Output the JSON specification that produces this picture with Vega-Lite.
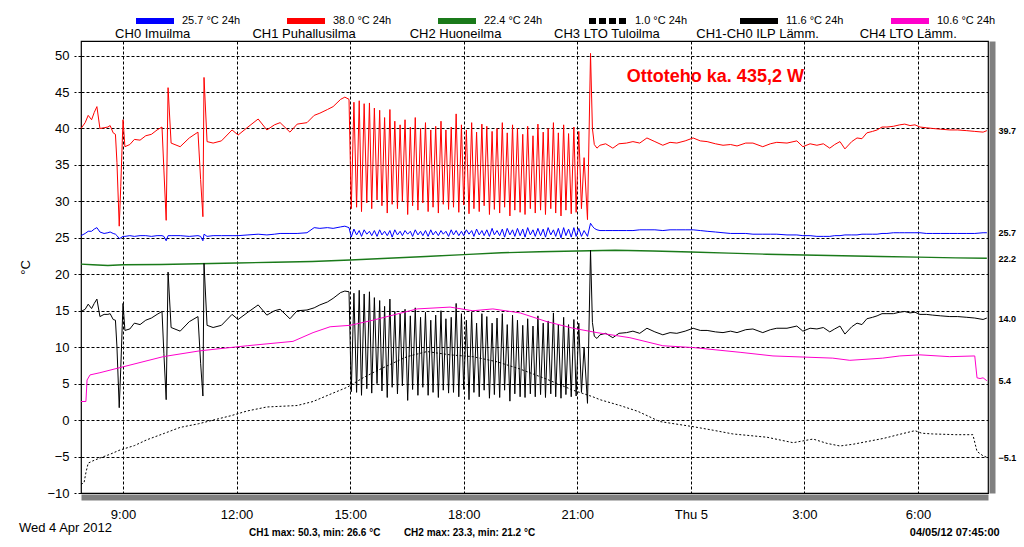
{
  "$schema": "https://vega.github.io/schema/vega-lite/v6.json",
  "autosize": {"type": "none"},
  "padding": {"left": 81, "top": 41, "right": 36, "bottom": 54},
  "width": 907,
  "height": 452,
  "background": "#ffffff",
  "config": {
    "font": "Liberation Sans",
    "view": {"stroke": "#000000", "strokeWidth": 1.2, "fill": "#ffffff"}
  },
  "datasets": {
    "m": [
      {"h":7.89,"a":25.3,"b":40.0,"e":14.9},
      {"h":8.00,"a":25.6,"b":40.8,"e":15.2},
      {"h":8.08,"a":25.9,"b":41.8,"e":15.9},
      {"h":8.17,"a":25.9,"b":41.2,"e":15.3},
      {"h":8.24,"a":26.2,"b":42.2,"e":16.0},
      {"h":8.31,"a":26.4,"b":43.0,"e":16.6},
      {"h":8.39,"a":25.8,"b":40.0,"e":14.2},
      {"h":8.50,"a":25.6,"b":40.1,"e":14.5},
      {"h":8.60,"a":25.7,"b":40.2,"e":14.5},
      {"h":8.66,"a":25.8,"b":40.4,"e":14.6},
      {"h":8.74,"a":25.6,"b":39.4,"e":13.8},
      {"h":8.80,"a":25.5,"b":39.2,"e":13.7},
      {"h":8.84,"a":25.3,"b":35.3,"e":10.0},
      {"h":8.90,"a":24.9,"b":26.6,"e":1.7},
      {"h":8.94,"a":25.0,"b":32.0,"e":7.0},
      {"h":9.00,"a":25.2,"b":41.2,"e":16.0},
      {"h":9.05,"a":25.2,"b":37.5,"e":12.3},
      {"h":9.18,"a":25.3,"b":37.8,"e":12.5},
      {"h":9.30,"a":25.2,"b":38.5,"e":13.3},
      {"h":9.45,"a":25.3,"b":38.4,"e":13.1},
      {"h":9.60,"a":25.3,"b":39.0,"e":13.7},
      {"h":9.75,"a":25.2,"b":39.2,"e":14.0},
      {"h":9.90,"a":25.3,"b":39.8,"e":14.5},
      {"h":10.03,"a":25.3,"b":40.2,"e":14.9},
      {"h":10.08,"a":25.2,"b":34.3,"e":9.1},
      {"h":10.14,"a":24.6,"b":27.4,"e":2.8},
      {"h":10.19,"a":25.3,"b":45.6,"e":20.3},
      {"h":10.27,"a":25.3,"b":38.0,"e":12.7},
      {"h":10.51,"a":25.3,"b":37.5,"e":12.2},
      {"h":10.75,"a":25.2,"b":38.7,"e":13.5},
      {"h":10.98,"a":25.3,"b":39.5,"e":14.2},
      {"h":11.05,"a":25.2,"b":33.0,"e":7.8},
      {"h":11.11,"a":24.6,"b":27.9,"e":3.3},
      {"h":11.14,"a":25.5,"b":47.0,"e":21.5},
      {"h":11.22,"a":25.2,"b":38.2,"e":13.0},
      {"h":11.38,"a":25.3,"b":38.0,"e":12.7},
      {"h":11.60,"a":25.3,"b":38.3,"e":13.0},
      {"h":11.88,"a":25.3,"b":39.8,"e":14.5},
      {"h":12.04,"a":25.3,"b":39.1,"e":13.8},
      {"h":12.30,"a":25.4,"b":40.2,"e":14.8},
      {"h":12.57,"a":25.5,"b":41.3,"e":15.8},
      {"h":12.80,"a":25.4,"b":39.8,"e":14.4},
      {"h":13.00,"a":25.5,"b":40.5,"e":15.0},
      {"h":13.15,"a":25.6,"b":40.8,"e":15.2},
      {"h":13.41,"a":25.6,"b":39.5,"e":13.9},
      {"h":13.60,"a":25.6,"b":40.6,"e":15.0},
      {"h":13.86,"a":25.7,"b":40.8,"e":15.1},
      {"h":14.05,"a":26.4,"b":41.8,"e":15.4},
      {"h":14.20,"a":26.3,"b":42.1,"e":15.8},
      {"h":14.40,"a":26.4,"b":42.6,"e":16.2},
      {"h":14.55,"a":26.3,"b":43.0,"e":16.7},
      {"h":14.75,"a":26.5,"b":44.0,"e":17.5},
      {"h":14.86,"a":26.6,"b":44.3,"e":17.7},
      {"h":14.97,"a":26.4,"b":44.0,"e":17.6},
      {"h":15.03,"a":25.1,"b":29.0,"e":3.9},
      {"h":15.10,"a":26.2,"b":43.6,"e":17.4},
      {"h":15.17,"a":25.4,"b":29.2,"e":3.8},
      {"h":15.24,"a":26.0,"b":43.8,"e":17.8},
      {"h":15.30,"a":25.2,"b":28.6,"e":3.4},
      {"h":15.37,"a":26.1,"b":43.4,"e":17.3},
      {"h":15.44,"a":25.5,"b":29.8,"e":4.3},
      {"h":15.51,"a":25.9,"b":43.5,"e":17.6},
      {"h":15.57,"a":25.3,"b":29.0,"e":3.7},
      {"h":15.64,"a":26.0,"b":42.8,"e":16.8},
      {"h":15.71,"a":25.2,"b":30.2,"e":5.0},
      {"h":15.78,"a":26.1,"b":42.5,"e":16.4},
      {"h":15.84,"a":25.4,"b":29.4,"e":4.0},
      {"h":15.91,"a":25.9,"b":41.5,"e":15.6},
      {"h":15.98,"a":25.3,"b":28.4,"e":3.1},
      {"h":16.05,"a":26.0,"b":42.6,"e":16.6},
      {"h":16.11,"a":25.1,"b":29.6,"e":4.5},
      {"h":16.18,"a":26.1,"b":41.0,"e":14.9},
      {"h":16.25,"a":25.4,"b":29.0,"e":3.6},
      {"h":16.32,"a":25.9,"b":40.5,"e":14.6},
      {"h":16.38,"a":25.3,"b":30.0,"e":4.7},
      {"h":16.45,"a":26.0,"b":41.2,"e":15.2},
      {"h":16.52,"a":25.5,"b":28.2,"e":2.7},
      {"h":16.59,"a":25.9,"b":40.2,"e":14.3},
      {"h":16.65,"a":25.2,"b":29.4,"e":4.2},
      {"h":16.72,"a":26.1,"b":41.5,"e":15.4},
      {"h":16.79,"a":25.4,"b":28.8,"e":3.4},
      {"h":16.86,"a":25.9,"b":40.0,"e":14.1},
      {"h":16.92,"a":25.3,"b":29.8,"e":4.5},
      {"h":16.99,"a":26.0,"b":40.8,"e":14.8},
      {"h":17.06,"a":25.2,"b":28.6,"e":3.4},
      {"h":17.13,"a":26.1,"b":39.8,"e":13.7},
      {"h":17.19,"a":25.4,"b":29.2,"e":3.8},
      {"h":17.26,"a":25.9,"b":40.3,"e":14.4},
      {"h":17.33,"a":25.3,"b":28.4,"e":3.1},
      {"h":17.40,"a":26.0,"b":41.0,"e":15.0},
      {"h":17.46,"a":25.5,"b":29.6,"e":4.1},
      {"h":17.53,"a":25.9,"b":39.8,"e":13.9},
      {"h":17.60,"a":25.2,"b":28.9,"e":3.7},
      {"h":17.67,"a":26.1,"b":40.2,"e":14.1},
      {"h":17.73,"a":25.4,"b":29.2,"e":3.8},
      {"h":17.80,"a":26.0,"b":42.0,"e":16.0},
      {"h":17.87,"a":25.3,"b":28.5,"e":3.2},
      {"h":17.94,"a":25.9,"b":40.5,"e":14.6},
      {"h":18.00,"a":25.3,"b":29.5,"e":4.2},
      {"h":18.07,"a":26.1,"b":39.8,"e":13.7},
      {"h":18.14,"a":25.5,"b":28.3,"e":2.8},
      {"h":18.21,"a":26.0,"b":40.8,"e":14.8},
      {"h":18.27,"a":25.2,"b":29.0,"e":3.8},
      {"h":18.34,"a":26.2,"b":39.5,"e":13.3},
      {"h":18.41,"a":25.4,"b":28.6,"e":3.2},
      {"h":18.48,"a":26.0,"b":40.6,"e":14.6},
      {"h":18.54,"a":25.3,"b":29.4,"e":4.1},
      {"h":18.61,"a":26.1,"b":40.3,"e":14.2},
      {"h":18.68,"a":25.2,"b":28.2,"e":3.0},
      {"h":18.75,"a":26.3,"b":39.6,"e":13.3},
      {"h":18.81,"a":25.4,"b":28.9,"e":3.5},
      {"h":18.88,"a":26.0,"b":40.0,"e":14.0},
      {"h":18.95,"a":25.3,"b":28.4,"e":3.1},
      {"h":19.02,"a":26.2,"b":40.8,"e":14.6},
      {"h":19.08,"a":25.1,"b":29.2,"e":4.1},
      {"h":19.15,"a":26.3,"b":39.4,"e":13.1},
      {"h":19.22,"a":25.4,"b":28.0,"e":2.6},
      {"h":19.29,"a":26.1,"b":40.5,"e":14.4},
      {"h":19.35,"a":25.2,"b":28.8,"e":3.6},
      {"h":19.42,"a":26.3,"b":40.0,"e":13.7},
      {"h":19.49,"a":25.3,"b":28.5,"e":3.2},
      {"h":19.56,"a":26.2,"b":39.2,"e":13.0},
      {"h":19.62,"a":25.1,"b":28.2,"e":3.1},
      {"h":19.69,"a":26.4,"b":40.3,"e":13.9},
      {"h":19.76,"a":25.4,"b":29.0,"e":3.6},
      {"h":19.83,"a":26.1,"b":39.0,"e":12.9},
      {"h":19.89,"a":25.2,"b":28.4,"e":3.2},
      {"h":19.96,"a":26.3,"b":40.6,"e":14.3},
      {"h":20.03,"a":25.3,"b":28.8,"e":3.5},
      {"h":20.10,"a":26.2,"b":39.5,"e":13.3},
      {"h":20.16,"a":25.1,"b":28.2,"e":3.1},
      {"h":20.23,"a":26.4,"b":40.0,"e":13.6},
      {"h":20.30,"a":25.4,"b":29.0,"e":3.6},
      {"h":20.37,"a":26.1,"b":40.8,"e":14.7},
      {"h":20.43,"a":25.2,"b":28.4,"e":3.2},
      {"h":20.50,"a":26.3,"b":39.4,"e":13.1},
      {"h":20.57,"a":25.0,"b":28.0,"e":3.0},
      {"h":20.64,"a":26.4,"b":40.5,"e":14.1},
      {"h":20.70,"a":25.3,"b":28.8,"e":3.5},
      {"h":20.77,"a":26.2,"b":39.3,"e":13.1},
      {"h":20.84,"a":25.1,"b":28.3,"e":3.2},
      {"h":20.91,"a":26.4,"b":40.2,"e":13.8},
      {"h":20.97,"a":25.2,"b":28.5,"e":3.3},
      {"h":21.04,"a":26.3,"b":39.6,"e":13.3},
      {"h":21.11,"a":25.2,"b":29.0,"e":3.8},
      {"h":21.18,"a":26.0,"b":36.0,"e":10.0},
      {"h":21.27,"a":25.2,"b":27.5,"e":2.3},
      {"h":21.35,"a":27.0,"b":50.3,"e":23.3},
      {"h":21.40,"a":26.6,"b":40.0,"e":13.4},
      {"h":21.45,"a":26.3,"b":37.8,"e":11.5},
      {"h":21.52,"a":26.1,"b":37.3,"e":11.2},
      {"h":21.60,"a":26.0,"b":37.7,"e":11.7},
      {"h":21.75,"a":26.0,"b":37.9,"e":11.9},
      {"h":21.94,"a":26.0,"b":37.3,"e":11.3},
      {"h":22.10,"a":26.0,"b":37.9,"e":11.9},
      {"h":22.30,"a":26.0,"b":38.0,"e":12.0},
      {"h":22.47,"a":26.0,"b":38.2,"e":12.2},
      {"h":22.65,"a":26.1,"b":38.0,"e":11.9},
      {"h":22.84,"a":26.1,"b":38.7,"e":12.6},
      {"h":23.05,"a":26.1,"b":38.2,"e":12.1},
      {"h":23.26,"a":26.0,"b":37.7,"e":11.7},
      {"h":23.45,"a":26.1,"b":38.1,"e":12.0},
      {"h":23.63,"a":26.1,"b":38.0,"e":11.9},
      {"h":23.85,"a":26.1,"b":38.3,"e":12.2},
      {"h":24.06,"a":26.1,"b":38.7,"e":12.6},
      {"h":24.25,"a":26.0,"b":38.3,"e":12.3},
      {"h":24.43,"a":25.9,"b":38.2,"e":12.3},
      {"h":24.65,"a":25.8,"b":37.9,"e":12.1},
      {"h":24.85,"a":25.7,"b":37.7,"e":12.0},
      {"h":25.05,"a":25.6,"b":37.8,"e":12.2},
      {"h":25.22,"a":25.6,"b":37.6,"e":12.0},
      {"h":25.45,"a":25.6,"b":38.0,"e":12.4},
      {"h":25.64,"a":25.5,"b":38.0,"e":12.5},
      {"h":25.90,"a":25.5,"b":37.5,"e":12.0},
      {"h":26.10,"a":25.5,"b":37.9,"e":12.4},
      {"h":26.27,"a":25.5,"b":38.1,"e":12.6},
      {"h":26.54,"a":25.4,"b":38.0,"e":12.6},
      {"h":26.80,"a":25.4,"b":38.3,"e":12.9},
      {"h":26.96,"a":25.3,"b":37.5,"e":12.2},
      {"h":27.15,"a":25.3,"b":37.9,"e":12.6},
      {"h":27.33,"a":25.2,"b":37.7,"e":12.5},
      {"h":27.50,"a":25.2,"b":37.9,"e":12.7},
      {"h":27.67,"a":25.2,"b":37.3,"e":12.1},
      {"h":27.80,"a":25.3,"b":37.8,"e":12.5},
      {"h":27.94,"a":25.3,"b":38.2,"e":12.9},
      {"h":28.07,"a":25.4,"b":37.2,"e":11.8},
      {"h":28.25,"a":25.4,"b":38.2,"e":12.8},
      {"h":28.39,"a":25.4,"b":38.7,"e":13.3},
      {"h":28.52,"a":25.5,"b":38.6,"e":13.1},
      {"h":28.65,"a":25.5,"b":39.4,"e":13.9},
      {"h":28.80,"a":25.5,"b":39.6,"e":14.1},
      {"h":28.92,"a":25.5,"b":39.8,"e":14.3},
      {"h":29.05,"a":25.6,"b":40.2,"e":14.6},
      {"h":29.18,"a":25.6,"b":40.2,"e":14.6},
      {"h":29.35,"a":25.7,"b":40.3,"e":14.6},
      {"h":29.52,"a":25.7,"b":40.5,"e":14.8},
      {"h":29.65,"a":25.7,"b":40.6,"e":14.9},
      {"h":29.79,"a":25.7,"b":40.4,"e":14.7},
      {"h":29.92,"a":25.7,"b":40.5,"e":14.8},
      {"h":30.05,"a":25.7,"b":40.2,"e":14.5},
      {"h":30.22,"a":25.6,"b":40.1,"e":14.5},
      {"h":30.39,"a":25.6,"b":40.0,"e":14.4},
      {"h":30.60,"a":25.6,"b":39.9,"e":14.3},
      {"h":30.84,"a":25.6,"b":39.8,"e":14.2},
      {"h":31.05,"a":25.6,"b":39.8,"e":14.2},
      {"h":31.29,"a":25.6,"b":39.7,"e":14.1},
      {"h":31.50,"a":25.6,"b":39.6,"e":14.0},
      {"h":31.72,"a":25.7,"b":39.5,"e":13.8},
      {"h":31.82,"a":25.7,"b":39.7,"e":14.0}
    ],
    "g": [
      {"h":7.89,"v":21.4},{"h":8.2,"v":21.3},{"h":8.6,"v":21.2},{"h":9.0,"v":21.3},
      {"h":10.0,"v":21.35},{"h":11.0,"v":21.45},{"h":12.0,"v":21.55},{"h":13.0,"v":21.65},
      {"h":14.0,"v":21.75},{"h":15.0,"v":21.95},{"h":16.0,"v":22.2},{"h":17.0,"v":22.45},
      {"h":18.0,"v":22.7},{"h":19.0,"v":22.95},{"h":20.0,"v":23.1},{"h":21.0,"v":23.2},
      {"h":22.0,"v":23.3},{"h":23.0,"v":23.2},{"h":24.0,"v":23.05},{"h":25.0,"v":22.9},
      {"h":26.0,"v":22.75},{"h":27.0,"v":22.65},{"h":28.0,"v":22.55},{"h":29.0,"v":22.45},
      {"h":30.0,"v":22.35},{"h":31.0,"v":22.25},{"h":31.82,"v":22.2}
    ],
    "d": [
      {"h":7.89,"v":-8.8},{"h":7.97,"v":-8.6},{"h":8.02,"v":-7.2},{"h":8.08,"v":-5.9},
      {"h":8.2,"v":-5.6},{"h":8.39,"v":-5.2},{"h":8.65,"v":-4.7},{"h":8.92,"v":-4.1},
      {"h":9.3,"v":-3.5},{"h":9.63,"v":-2.7},{"h":10.1,"v":-1.8},{"h":10.51,"v":-1.0},
      {"h":11.0,"v":-0.5},{"h":11.38,"v":0.0},{"h":11.85,"v":0.6},{"h":12.28,"v":1.25},
      {"h":12.8,"v":1.8},{"h":13.2,"v":1.9},{"h":13.6,"v":2.0},{"h":14.02,"v":2.55},
      {"h":14.5,"v":3.6},{"h":14.92,"v":4.5},{"h":15.34,"v":5.8},{"h":15.6,"v":6.5},
      {"h":16.0,"v":7.5},{"h":16.5,"v":8.7},{"h":17.03,"v":9.4},{"h":17.3,"v":9.2},
      {"h":17.64,"v":8.95},{"h":18.24,"v":8.7},{"h":18.88,"v":8.0},{"h":19.49,"v":7.0},
      {"h":20.2,"v":5.6},{"h":20.89,"v":4.1},{"h":21.41,"v":3.2},{"h":21.6,"v":2.8},
      {"h":22.13,"v":2.0},{"h":22.6,"v":1.2},{"h":23.18,"v":-0.2},{"h":24.06,"v":-0.9},
      {"h":24.6,"v":-1.4},{"h":25.11,"v":-1.9},{"h":26.01,"v":-2.35},{"h":26.7,"v":-3.1},
      {"h":27.23,"v":-2.6},{"h":27.6,"v":-3.2},{"h":27.94,"v":-3.55},{"h":28.3,"v":-3.3},
      {"h":28.65,"v":-2.95},{"h":29.1,"v":-2.5},{"h":29.52,"v":-1.95},{"h":29.92,"v":-1.45},
      {"h":30.1,"v":-1.8},{"h":30.39,"v":-1.9},{"h":31.0,"v":-2.0},{"h":31.45,"v":-2.0},
      {"h":31.56,"v":-4.3},{"h":31.72,"v":-4.9},{"h":31.82,"v":-5.1}
    ],
    "f": [
      {"h":7.89,"v":2.55},{"h":8.02,"v":2.55},{"h":8.05,"v":5.5},{"h":8.13,"v":6.2},
      {"h":8.39,"v":6.5},{"h":8.92,"v":7.2},{"h":10.06,"v":8.7},{"h":11.03,"v":9.5},
      {"h":12.28,"v":10.2},{"h":13.49,"v":10.8},{"h":14.02,"v":12.0},{"h":14.47,"v":12.8},
      {"h":15.0,"v":13.0},{"h":15.6,"v":13.7},{"h":16.77,"v":15.25},{"h":17.64,"v":15.5},
      {"h":18.24,"v":15.0},{"h":18.77,"v":15.25},{"h":19.49,"v":14.7},{"h":20.2,"v":13.5},
      {"h":20.89,"v":12.6},{"h":21.52,"v":12.0},{"h":22.39,"v":11.3},{"h":23.26,"v":10.2},
      {"h":24.06,"v":9.95},{"h":25.3,"v":9.3},{"h":26.17,"v":8.8},{"h":27.75,"v":8.5},
      {"h":28.2,"v":8.2},{"h":29.07,"v":8.5},{"h":29.52,"v":8.8},{"h":30.05,"v":8.95},
      {"h":30.84,"v":8.7},{"h":31.5,"v":8.8},{"h":31.56,"v":5.8},{"h":31.64,"v":5.7},
      {"h":31.72,"v":5.8},{"h":31.82,"v":5.4}
    ]
  },
  "resolve": {"axis": {"x": "independent", "y": "independent"}},
  "layer": [
    {
      "data": {"name": "m"},
      "mark": {"type": "line", "strokeWidth": 1, "color": "#ff0000"},
      "encoding": {
        "x": {"field": "h", "type": "quantitative",
          "scale": {"domain": [7.89, 31.85], "nice": false, "zero": false},
          "axis": {"orient": "bottom", "values": [9,12,15,18,21,24,27,30], "labelExpr": "datum.value == 24 ? 'Thu 5' : (datum.value % 24) + ':00'", "grid": true, "gridColor": "#000000", "gridDash": [3,2], "gridWidth": 1, "gridOpacity": 1, "ticks": false, "domainColor": "#808080", "domainWidth": 6, "offset": 4, "labelPadding": 11, "labelFontSize": 13, "labelColor": "#000000", "labelFlush": false, "title": null}},
        "y": {"field": "b", "type": "quantitative",
          "scale": {"domain": [-10, 52], "nice": false, "zero": false},
          "axis": {"orient": "left", "values": [-10,-5,0,5,10,15,20,25,30,35,40,45,50], "grid": true, "gridColor": "#000000", "gridDash": [3,2], "gridWidth": 1, "gridOpacity": 1, "ticks": true, "tickSize": 7, "tickColor": "#000000", "tickDash": [3,2], "domain": false, "labelPadding": 5, "labelFontSize": 13, "labelColor": "#000000", "title": "°C", "titleFontSize": 13, "titleFontWeight": "normal", "titleColor": "#000000", "titlePadding": 14}},
        "color": {"datum": "38.0 °C 24h",
          "scale": {"domain": ["25.7 °C 24h","38.0 °C 24h","22.4 °C 24h","1.0 °C 24h","11.6 °C 24h","10.6 °C 24h"], "range": ["#0000ff","#ff0000","#1a7a1a","#000000","#000000","#ff00cc"]},
          "legend": {"orient": "none", "legendX": 52, "legendY": -42, "direction": "horizontal", "columns": 6, "gridAlign": "all", "columnPadding": 34, "symbolType": "stroke", "symbolSize": 1444, "symbolStrokeWidth": 6, "labelFontSize": 11, "labelColor": "#000000", "labelOffset": 5, "title": null,
            "encode": {"symbols": {"update": {"strokeDash": {"signal": "datum.value === '1.0 °C 24h' ? [7,3] : [1,0]"}}}}}}
      }
    },
    {
      "data": {"name": "m"},
      "mark": {"type": "line", "strokeWidth": 1},
      "encoding": {
        "x": {"field": "h", "type": "quantitative", "axis": null},
        "y": {"field": "a", "type": "quantitative", "axis": null},
        "color": {"datum": "25.7 °C 24h"}
      }
    },
    {
      "data": {"name": "g"},
      "mark": {"type": "line", "strokeWidth": 1.4},
      "encoding": {
        "x": {"field": "h", "type": "quantitative",
          "axis": {"orient": "top", "values": [9.77, 13.77, 17.77, 21.77, 25.75, 29.73], "labelExpr": "datum.value < 12 ? 'CH0 Imuilma' : datum.value < 16 ? 'CH1 Puhallusilma' : datum.value < 20 ? 'CH2 Huoneilma' : datum.value < 24 ? 'CH3 LTO Tuloilma' : datum.value < 28 ? 'CH1-CH0 ILP Lämm.' : 'CH4 LTO Lämm.'", "grid": false, "ticks": false, "domain": false, "labelPadding": 1, "labelFontSize": 13, "labelColor": "#000000", "labelOverlap": false, "labelFlush": false, "labelBound": false, "title": null}},
        "y": {"field": "v", "type": "quantitative",
          "axis": {"orient": "right", "values": [39.7, 25.7, 22.2, 14.0, 5.4, -5.1], "format": ".1f", "grid": false, "ticks": false, "domainColor": "#808080", "domainWidth": 6, "offset": 4, "labelPadding": 6, "labelFontSize": 9, "labelFontWeight": "bold", "labelColor": "#000000", "labelOverlap": false, "labelFlush": false, "title": null}},
        "color": {"datum": "22.4 °C 24h"}
      }
    },
    {
      "data": {"name": "m"},
      "mark": {"type": "line", "strokeWidth": 1},
      "encoding": {
        "x": {"field": "h", "type": "quantitative", "axis": null},
        "y": {"field": "e", "type": "quantitative", "axis": null},
        "color": {"datum": "11.6 °C 24h"}
      }
    },
    {
      "data": {"name": "d"},
      "mark": {"type": "line", "strokeWidth": 1, "strokeDash": [2,2]},
      "encoding": {
        "x": {"field": "h", "type": "quantitative", "axis": null},
        "y": {"field": "v", "type": "quantitative", "axis": null},
        "color": {"datum": "1.0 °C 24h"}
      }
    },
    {
      "data": {"name": "f"},
      "mark": {"type": "line", "strokeWidth": 1},
      "encoding": {
        "x": {"field": "h", "type": "quantitative", "axis": null},
        "y": {"field": "v", "type": "quantitative", "axis": null},
        "color": {"datum": "10.6 °C 24h"}
      }
    },
    {
      "data": {"values": [{}]},
      "mark": {"type": "text", "text": "Ottoteho ka. 435,2 W", "color": "#ff0000", "fontSize": 18, "fontWeight": "bold", "align": "left", "baseline": "middle"},
      "encoding": {"x": {"datum": 22.31, "axis": null}, "y": {"datum": 47.1, "axis": null}}
    },
    {
      "data": {"values": [{}]},
      "mark": {"type": "text", "text": "Wed 4 Apr 2012", "color": "#000000", "fontSize": 13, "align": "left", "baseline": "middle"},
      "encoding": {"x": {"datum": 6.25, "axis": null}, "y": {"datum": -14.8, "axis": null}}
    },
    {
      "data": {"values": [{}]},
      "mark": {"type": "text", "text": "CH1 max: 50.3, min: 26.6 °C", "color": "#000000", "fontSize": 10, "fontWeight": "bold", "align": "left", "baseline": "middle"},
      "encoding": {"x": {"datum": 12.33, "axis": null}, "y": {"datum": -15.5, "axis": null}}
    },
    {
      "data": {"values": [{}]},
      "mark": {"type": "text", "text": "CH2 max: 23.3, min: 21.2 °C", "color": "#000000", "fontSize": 10, "fontWeight": "bold", "align": "left", "baseline": "middle"},
      "encoding": {"x": {"datum": 16.42, "axis": null}, "y": {"datum": -15.5, "axis": null}}
    },
    {
      "data": {"values": [{}]},
      "mark": {"type": "text", "text": "04/05/12 07:45:00", "color": "#000000", "fontSize": 11, "fontWeight": "bold", "align": "right", "baseline": "middle"},
      "encoding": {"x": {"datum": 32.16, "axis": null}, "y": {"datum": -15.5, "axis": null}}
    }
  ]
}
